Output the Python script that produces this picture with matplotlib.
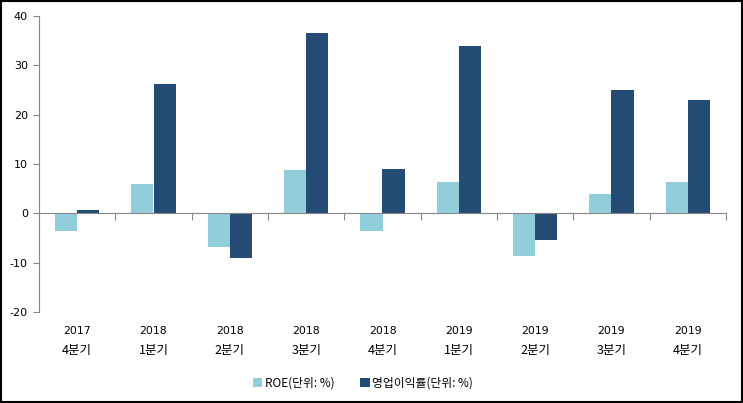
import matplotlib
matplotlib.use("Agg")
import matplotlib.pyplot as plt
import numpy as np
from matplotlib.patches import Rectangle

plt.rcParams["font.family"] = ["DejaVu Sans", "Noto Sans CJK KR"]
plt.rcParams["axes.unicode_minus"] = False

years = ["2017", "2018", "2018", "2018", "2018", "2019", "2019", "2019", "2019"]
quarters = ["4분기", "1분기", "2분기", "3분기", "4분기", "1분기", "2분기", "3분기", "4분기"]
roe = [-3.6, 5.9, -6.8, 8.7, -3.6, 6.3, -8.7, 3.9, 6.3]
op_margin = [0.6, 26.2, -9.1, 36.5, 8.9, 33.9, -5.4, 24.9, 22.9]

fig = plt.figure(figsize=(7.43, 4.03), dpi=100)
ax = fig.add_axes([39 / 743, 91 / 403, 687 / 743, 296 / 403])

x = np.arange(len(years))
w = 0.29
ax.bar(x - w / 2, roe, w, color="#92CDDC", label="ROE(단위: %)")
ax.bar(x + w / 2, op_margin, w, color="#234B73", label="영업이익률(단위: %)")

ax.set_xlim(-0.5, len(years) - 0.5)
ax.set_ylim(-20, 40)
ax.set_yticks([-20, -10, 0, 10, 20, 30, 40])
ax.tick_params(axis="y", direction="out", length=4, color="#868686",
               labelsize=8, pad=4)

for s in ["top", "right"]:
    ax.spines[s].set_visible(False)
ax.spines["left"].set_color("#868686")
ax.spines["bottom"].set_position(("data", 0))
ax.spines["bottom"].set_color("#868686")
ax.set_xticks(np.arange(-0.5, len(years), 1.0))
ax.set_xticklabels([])
ax.tick_params(axis="x", direction="out", length=5, color="#868686")

trans = ax.get_xaxis_transform()
for i in range(len(years)):
    ax.text(x[i], -0.063, years[i], transform=trans, ha="center", va="center",
            fontsize=7.8)
    ax.text(x[i], -0.13, quarters[i], transform=trans, ha="center", va="center",
            family=["Noto Sans CJK KR", "DejaVu Sans"], fontsize=9)

fig.legend(loc="center", bbox_to_anchor=(363 / 743, 1 - 383 / 403), ncol=2,
           frameon=False, handlelength=0.8, handleheight=0.8,
           handletextpad=0.2, columnspacing=2.2,
           prop={"family": ["Noto Sans CJK KR", "DejaVu Sans"], "size": 8.5})

fig.patches.append(Rectangle((0.001, 0.002), 0.997, 0.996, transform=fig.transFigure,
                             fill=False, edgecolor="black", linewidth=1.5))

fig.savefig("out.png", dpi=100)
